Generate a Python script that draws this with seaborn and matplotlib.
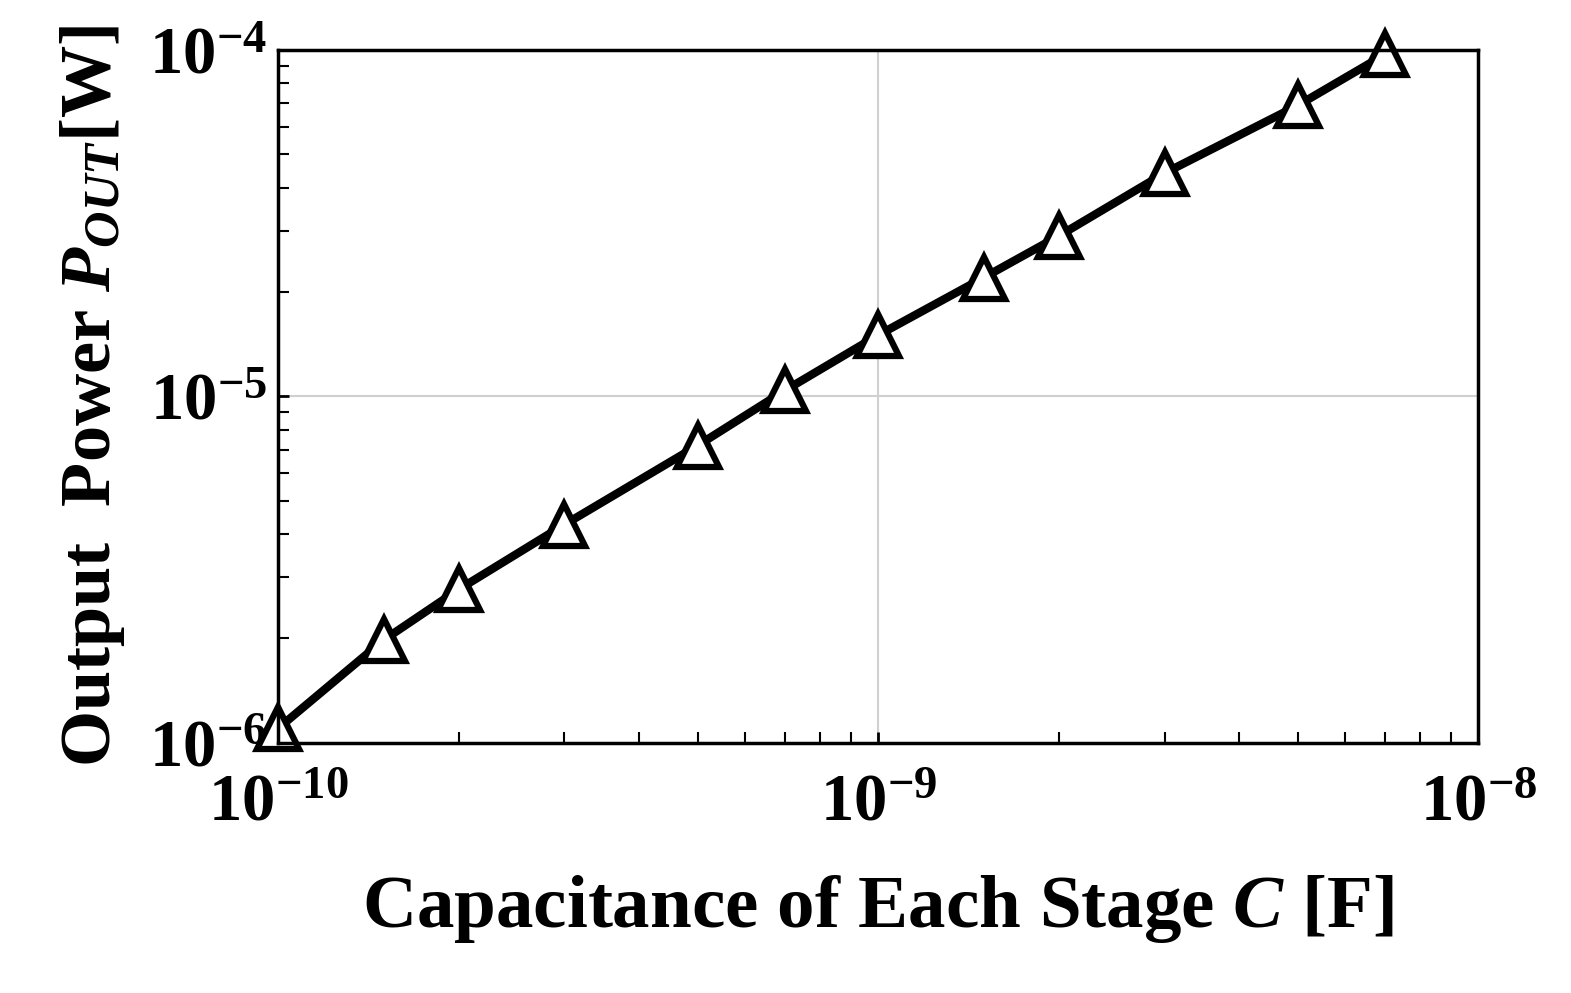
import matplotlib
matplotlib.use("Agg")
import matplotlib.pyplot as plt
import numpy as np
import pandas as pd
import seaborn as sns

capacitance = [1e-10, 1.5e-10, 2e-10, 3e-10, 5e-10, 7e-10, 1e-9, 1.5e-9, 2e-9, 3e-9, 5e-9, 7e-9]
power = [1.1e-6, 1.98e-6, 2.77e-6, 4.26e-6, 7.2e-6, 1.04e-5, 1.5e-5, 2.2e-5, 2.9e-5, 4.4e-5, 6.9e-5, 9.7e-5]

data = pd.DataFrame({"C": capacitance, "P": power})

sns.set_style("white")
plt.rcParams["font.family"] = ["Liberation Serif", "DejaVu Serif"]
plt.rcParams["font.weight"] = "bold"
plt.rcParams["text.color"] = "black"
plt.rcParams["axes.labelcolor"] = "black"
plt.rcParams["xtick.color"] = "black"
plt.rcParams["ytick.color"] = "black"
plt.rcParams["mathtext.fontset"] = "custom"
plt.rcParams["mathtext.rm"] = "Liberation Serif:bold"
plt.rcParams["mathtext.it"] = "Liberation Serif:italic:bold"

fig, ax = plt.subplots(figsize=(15.71, 9.93), dpi=100)
fig.subplots_adjust(left=0.177, right=0.941, top=0.95, bottom=0.252)

sns.lineplot(data=data, x="C", y="P", ax=ax, color="black", linewidth=6,
             marker="^", markersize=30, markerfacecolor="white",
             markeredgecolor="black", markeredgewidth=4.5, clip_on=False)

ax.set_xscale("log")
ax.set_yscale("log")
ax.set_xlim(1e-10, 1e-8)
ax.set_ylim(1e-6, 1e-4)
ax.grid(True, which="major", color="#d0d0d0", linewidth=1.5)
for s in ax.spines.values():
    s.set_linewidth(2.5)
    s.set_color("black")

ax.set_xticks([1e-10, 1e-9, 1e-8])
ax.set_xticklabels(["10$^{-10}$", "10$^{-9}$", "10$^{-8}$"])
ax.set_yticks([1e-6, 1e-5, 1e-4])
ax.set_yticklabels(["10$^{-6}$", "10$^{-5}$", "10$^{-4}$"])
ax.tick_params(axis="both", which="major", labelsize=48, length=8, width=2,
               direction="in")
ax.tick_params(axis="x", which="major", pad=22)
ax.tick_params(axis="y", which="major", pad=8)
ax.tick_params(axis="both", which="minor", length=8, width=1.5, direction="in")
ax.tick_params(axis="x", which="both", bottom=True, top=False)
ax.tick_params(axis="y", which="both", left=True, right=False)

ax.set_xlabel("Capacitance of Each Stage $\\mathit{C}$ [F]", fontsize=54,
              fontweight="bold", labelpad=28)
ax.set_ylabel("Output  Power $\\mathit{P}_{\\mathit{OUT}}$[W]", fontsize=52,
              fontweight="bold", labelpad=16)

plt.savefig("out.png")
